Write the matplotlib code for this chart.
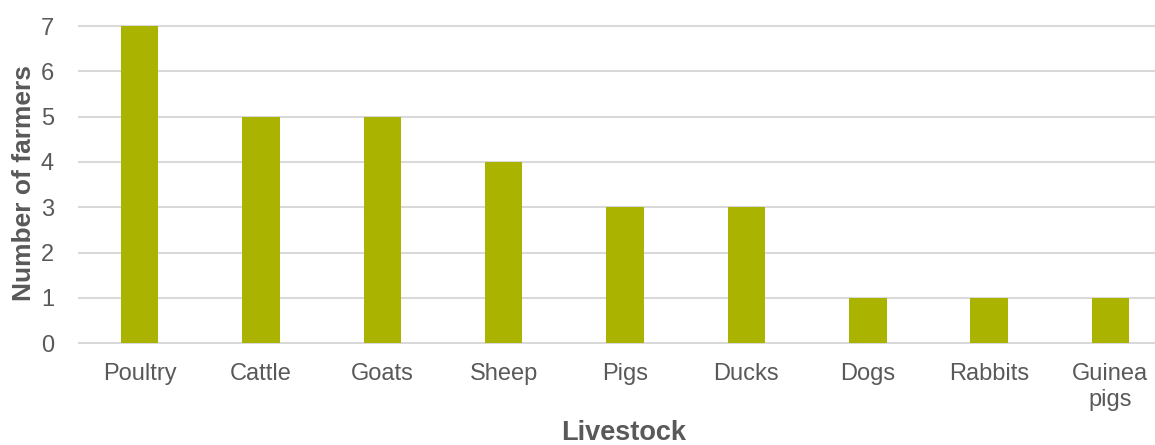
import matplotlib.pyplot as plt

livestock = ['Poultry', 'Cattle', 'Goats', 'Sheep', 'Pigs', 'Ducks', 'Dogs', 'Rabbits', 'Guinea\npigs']
farmers = [7, 5, 5, 4, 3, 3, 1, 1, 1]

plt.rcParams['font.family'] = ['Liberation Sans', 'DejaVu Sans']
grey = '#595959'

fig = plt.figure(figsize=(11.55, 4.45), dpi=100)
ax = fig.add_axes([0.0684, 0.229, 0.9455, 0.7124])

x = range(len(livestock))
ax.bar(x, farmers, width=0.31, color='#aab400', zorder=3)

ax.set_xlim(-0.5, len(livestock) - 0.5)
ax.set_ylim(0, 7)
ax.set_yticks(range(0, 8))
ax.yaxis.grid(True, color='#d9d9d9', linewidth=1.5, zorder=0)
for gl in ax.yaxis.get_gridlines():
    gl.set_clip_on(False)

ax.set_xticks(list(x))
ax.set_xticklabels(livestock, linespacing=1.25)
ax.tick_params(axis='both', length=0, labelsize=17, colors=grey)
ax.tick_params(axis='x', pad=14)
ax.tick_params(axis='y', pad=18)

for s in ['top', 'right', 'left', 'bottom']:
    ax.spines[s].set_visible(False)

ax.set_xlabel('Livestock', fontsize=19.5, fontweight='bold', color=grey)
ax.xaxis.set_label_coords(0.499, -0.243)
ax.set_ylabel('Number of farmers', fontsize=19, fontweight='bold', color=grey)
ax.yaxis.set_label_coords(-0.039, 0.505)

fig.savefig('out.png', dpi=100)
